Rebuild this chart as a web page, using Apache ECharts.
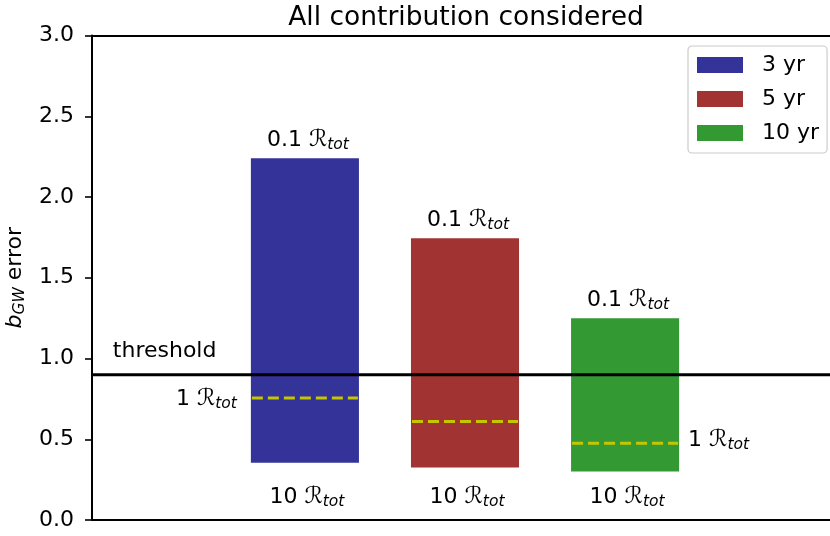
<!DOCTYPE html>
<html>
<head>
<meta charset="utf-8">
<script src="https://cdn.jsdelivr.net/npm/echarts@6/dist/echarts.min.js"></script>
<style>
  html, body { margin: 0; padding: 0; background: #fff; }
  #chart { width: 830px; height: 536px; }
</style>
</head>
<body>
<div id="chart"></div>
<script>
// Observation spans and their error ranges on b_GW
const periods = ['3 yr', '5 yr', '10 yr'];
const positions = [0, 1, 2];
const errAt01 = [2.24, 1.745, 1.25];   // 0.1 R_tot (top of bar)
const errAt10 = [0.355, 0.325, 0.30];  // 10 R_tot (bottom of bar)
const errAt1 = [0.755, 0.61, 0.475];   // 1 R_tot (dashed marker)
const oneRSide = ['left', null, 'right'];
const colors = ['#333399', '#a23333', '#339933'];
const thresholdValue = 0.9;
const yTicks = [0, 0.5, 1.0, 1.5, 2.0, 2.5, 3.0];

const BAR_HALF = 0.3375;
const FONT = 'DejaVu Sans';

const rich = {
  n: { fontFamily: FONT, fontSize: 22, color: '#000' },
  r: { fontFamily: FONT, fontSize: 23, fontStyle: 'italic', color: '#000' },
  s: { fontFamily: FONT, fontSize: 15.5, fontStyle: 'italic', color: '#000', padding: [10, 0, 0, 0] }
};
function rtot(prefix) {
  return '{n|' + prefix + ' }{r|\u211B}{s|tot}';
}

const chart = echarts.init(document.getElementById('chart'), null, { renderer: 'canvas' });

const series = periods.map(function (name, i) {
  return {
    type: 'custom',
    name: name,
    itemStyle: { color: colors[i] },
    data: [[positions[i], errAt10[i], errAt01[i], errAt1[i]]],
    renderItem: function (params, api) {
      const x = api.value(0);
      const lo = api.value(1);
      const hi = api.value(2);
      const mid = api.value(3);
      const p0 = api.coord([x - BAR_HALF, hi]);
      const p1 = api.coord([x + BAR_HALF, lo]);
      const m0 = api.coord([x - BAR_HALF, mid]);
      const m1 = api.coord([x + BAR_HALF, mid]);
      const cx = (p0[0] + p1[0]) / 2;
      const children = [
        { type: 'rect', shape: { x: p0[0], y: p0[1], width: p1[0] - p0[0], height: p1[1] - p0[1] },
          style: { fill: colors[i] } },
        { type: 'line', shape: { x1: m0[0] + 1, y1: m0[1], x2: m1[0] - 1, y2: m1[1] },
          style: { stroke: '#c6c600', lineWidth: 3, lineDash: [11, 5] } },
        { type: 'text', x: cx + 3, y: p0[1] - 18,
          style: { text: rtot('0.1'), rich: rich, align: 'center', verticalAlign: 'middle' } },
        { type: 'text', x: cx + 2, y: api.coord([x, 0.1])[1] - 7,
          style: { text: rtot('10'), rich: rich, align: 'center', verticalAlign: 'middle' } }
      ];
      if (oneRSide[i] === 'left') {
        children.push({ type: 'text', x: p0[0] - 14, y: m0[1] + 1,
          style: { text: rtot('1'), rich: rich, align: 'right', verticalAlign: 'middle' } });
      } else if (oneRSide[i] === 'right') {
        children.push({ type: 'text', x: p1[0] + 9, y: m1[1] - 3,
          style: { text: rtot('1'), rich: rich, align: 'left', verticalAlign: 'middle' } });
      }
      return { type: 'group', children: children };
    }
  };
});

// Threshold line and its label
series.push({
  type: 'custom',
  name: 'threshold',
  data: [[-1.2, thresholdValue]],
  renderItem: function (params, api) {
    const l = api.coord([-3, api.value(1)]);
    const t = api.coord([api.value(0), 1.0]);
    return {
      type: 'group',
      children: [
        { type: 'line', shape: { x1: params.coordSys.x, y1: l[1], x2: params.coordSys.x + params.coordSys.width, y2: l[1] },
          style: { stroke: '#000', lineWidth: 3 } },
        { type: 'text', x: t[0], y: t[1] - 7.6,
          style: { text: 'threshold', fontFamily: FONT, fontSize: 22, fill: '#000', align: 'left', verticalAlign: 'middle' } }
      ]
    };
  }
});

chart.setOption({
  animation: false,
  backgroundColor: '#fff',
  title: {
    text: 'All contribution considered',
    left: 461, top: 0, textAlign: 'center',
    textStyle: { fontFamily: FONT, fontSize: 26.5, fontWeight: 'normal', color: '#000' }
  },
  legend: {
    data: periods,
    left: 688, top: 46,
    orient: 'vertical',
    itemWidth: 46, itemHeight: 16, itemGap: 12,
    padding: [8, 8, 9, 9],
    icon: 'rect',
    borderColor: '#cccccc', borderWidth: 1.2, borderRadius: 4,
    backgroundColor: 'rgba(255,255,255,0.8)',
    textStyle: { fontFamily: FONT, fontSize: 22, lineHeight: 16, color: '#000', padding: [0, 0, 0, 14] }
  },
  grid: { left: 92, right: 0, top: 35.5, bottom: 16, containLabel: false, outerBoundsMode: 'none' },
  xAxis: [
    { type: 'value', min: -1.33, max: 3.28, position: 'bottom',
      axisLine: { show: true, onZero: false, lineStyle: { color: '#000', width: 2 } },
      axisTick: { show: false }, axisLabel: { show: false }, splitLine: { show: false } },
    { type: 'value', min: -1.33, max: 3.28, position: 'top',
      axisLine: { show: true, onZero: false, lineStyle: { color: '#000', width: 2 } },
      axisTick: { show: false }, axisLabel: { show: false }, splitLine: { show: false } }
  ],
  yAxis: {
    type: 'value', min: yTicks[0], max: yTicks[yTicks.length - 1], interval: 0.5,
    name: '{b|b}{g|GW}{e| error}',
    nameLocation: 'middle', nameGap: 59, nameRotate: 90,
    nameTextStyle: {
      rich: {
        b: { fontFamily: FONT, fontSize: 22, fontStyle: 'italic', color: '#000' },
        g: { fontFamily: FONT, fontSize: 15.5, fontStyle: 'italic', color: '#000', padding: [10, 0, 0, 0] },
        e: { fontFamily: FONT, fontSize: 22, color: '#000' }
      }
    },
    axisLine: { show: true, onZero: false, lineStyle: { color: '#000', width: 2 } },
    axisTick: { show: true, inside: false, length: 7, lineStyle: { color: '#000', width: 1.6 } },
    axisLabel: { fontFamily: FONT, fontSize: 22, color: '#000', margin: 18,
      formatter: function (v) { return v.toFixed(1); } },
    splitLine: { show: false }
  },
  series: series
});
</script>
</body>
</html>
